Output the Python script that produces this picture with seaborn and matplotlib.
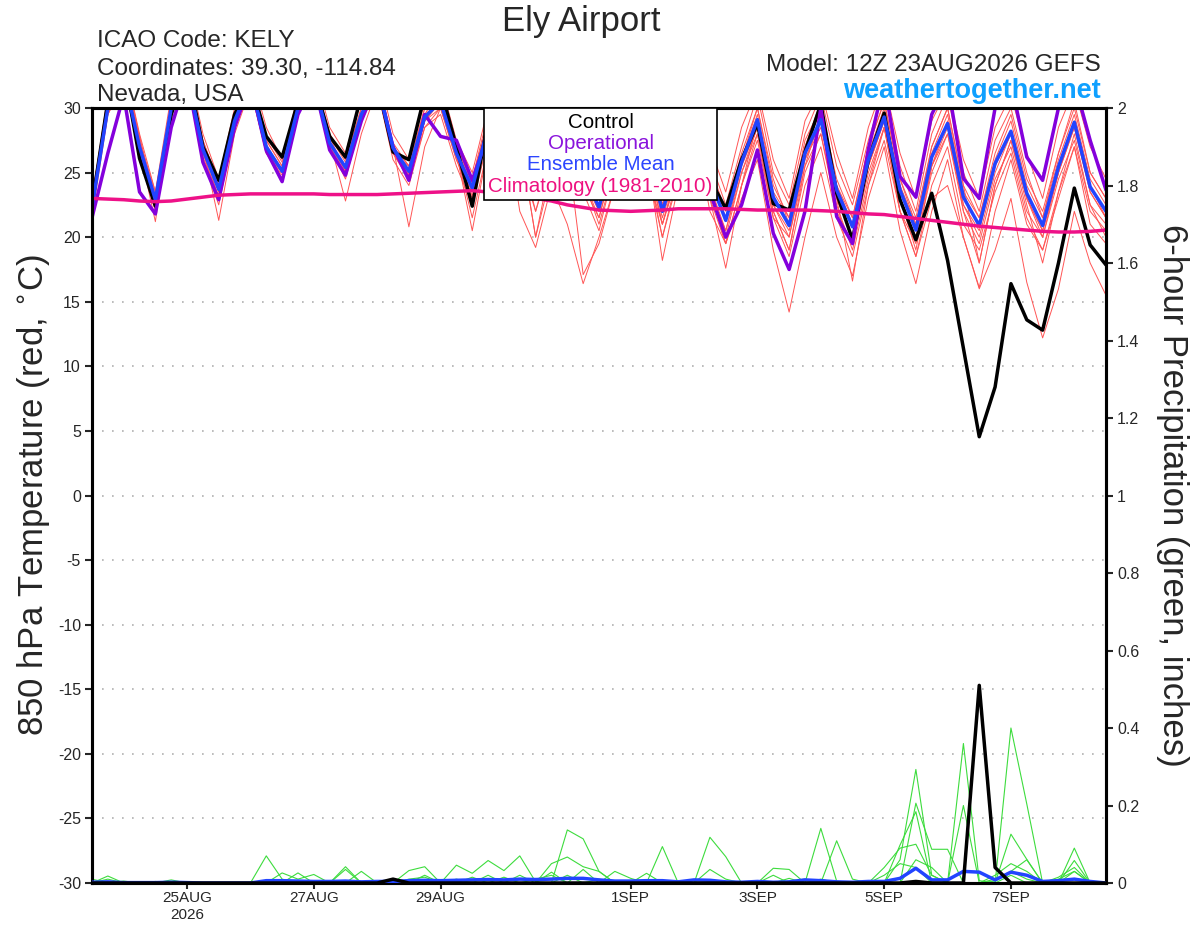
import numpy as np
import pandas as pd
import matplotlib
matplotlib.use("Agg")
import matplotlib.pyplot as plt
from matplotlib.lines import Line2D
from matplotlib.ticker import FuncFormatter
import seaborn as sns

# 6-hourly steps, 12Z 23AUG2026 -> 12Z 8SEP2026
times = pd.date_range("2026-08-23 12:00", periods=65, freq="6h")

# 850 hPa temperature (C)
control_t = [22.5, 30.5, 33, 26.1, 22.4, 29.5, 33, 27.0, 24.4, 29.5, 32, 27.8, 26.2,
             30.5, 32, 27.8, 26.2, 31, 32, 26.6, 26.0, 31, 31.5, 27.0, 22.4, 29,
             32, 27.5, 24.0, 28.5, 31, 26, 23.5, 27.5, 31, 27.5, 23.3, 26.5, 29.5,
             24.5, 22.2, 26.0, 28.8, 22.6, 22.1, 26.6, 30.3, 23.4, 19.8, 26.0, 29.6, 22.9,
             19.8, 23.4, 18.2, 11.4, 4.55, 8.4, 16.4, 13.6, 12.8, 18.0, 23.8, 19.4, 17.85]
oper_t = [21.5, 26.5, 31, 23.5, 21.8, 28.5, 32.5, 25.8, 22.9, 28.5, 32, 26.7, 24.3,
          29.5, 32, 26.75, 24.8, 29, 32, 27.0, 24.4, 29.5, 27.8, 27.5, 24.4, 28,
          31, 27, 24, 28, 31, 26, 23.5, 27, 30.5, 27, 23.5, 25.5, 28,
          23.5, 20.0, 22.5, 26.75, 20.3, 17.5, 22.0, 30.0, 21.6, 19.5, 26.8, 32, 24.7,
          23.1, 29.5, 32, 24.55, 23.0, 30.0, 32, 26.2, 24.4, 30.0, 32, 27.5, 23.65]
mean_t = [22.3, 30.0, 32.5, 27.0, 22.9, 30.0, 32.5, 26.8, 23.7, 29.0, 32.0, 27.0, 25.1,
          30.0, 32.0, 27.3, 25.4, 29.5, 32.0, 26.9, 25.1, 29.3, 30.5, 26.5, 23.8, 28.5,
          31.5, 27.0, 24.0, 28.0, 30.5, 25.0, 22.3, 27.0, 30.5, 27.0, 22.0, 26.0, 29.0,
          24.5, 21.3, 25.8, 29.1, 23.1, 20.9, 26.5, 29.1, 23.65, 20.8, 26.0, 29.3, 23.65,
          20.55, 26.2, 28.8, 23.1, 20.9, 25.7, 28.2, 23.4, 20.9, 25.45, 28.9, 23.9, 22.0]
clim_t = [23.0, 22.95, 22.9, 22.8, 22.75, 22.8, 22.95, 23.1, 23.25, 23.3, 23.35, 23.35, 23.35,
          23.35, 23.35, 23.3, 23.3, 23.3, 23.3, 23.35, 23.4, 23.45, 23.5, 23.55, 23.6, 23.5,
          23.4, 23.2, 23.0, 22.8, 22.5, 22.3, 22.1, 22.05, 22.0, 22.05, 22.1, 22.2, 22.2,
          22.2, 22.2, 22.15, 22.1, 22.1, 22.1, 22.1, 22.05, 22.0, 21.9, 21.8, 21.75, 21.6,
          21.45, 21.3, 21.15, 21.0, 20.85, 20.75, 20.65, 20.55, 20.45, 20.4, 20.4, 20.45, 20.55]

# ensemble members, one day (12Z 18Z 00Z 06Z) per group of four
member_t = [
    [22.8, 30.5, 33, 27.5, 23.2, 30.5, 33, 27.2, 24.0, 29.5, 32.5, 27.5, 25.5, 30.5, 32.5, 27.8,
     25.8, 30, 32.5, 27.3, 25.5, 30, 31, 27, 24.2, 29, 32, 27.5, 24.5, 28.5, 31, 26,
     23, 28, 31, 27.5, 22.5, 27, 30, 25.5, 22, 26.5, 30, 24, 21.5, 27.5, 30, 24.5,
     21.5, 27, 30.5, 24.5, 21.5, 27, 30, 24, 21.5, 26.5, 29.5, 24.5, 22, 26.5, 30, 25, 23],
    [22.0, 29.5, 32, 26.5, 22.0, 29, 32, 26.0, 22.5, 28.5, 31.5, 26.5, 24.5, 29.5, 31.5, 27,
     24.5, 29, 31.5, 26, 24, 28.5, 29.5, 25.5, 22.5, 27.5, 30.5, 26, 22, 26.5, 29, 23.5,
     20.5, 25.5, 29, 25.5, 20, 24.5, 27.5, 23, 19.5, 24, 27.5, 21.5, 18.5, 24, 27, 21.5,
     18.5, 24, 27.5, 22, 18.5, 24, 27, 21, 19, 23.5, 26.5, 21.5, 19, 23.5, 27, 22, 20.5],
    [22.6, 31, 33.5, 28, 23.5, 31, 33.5, 28, 24.5, 30, 33, 28.5, 26, 31, 33, 28.5,
     26.5, 31, 33, 28, 26, 30.5, 32, 27.5, 25, 30, 33, 28.5, 25.5, 30, 32, 27,
     24, 29, 32.5, 29, 24, 28.5, 31.5, 27, 23.5, 28.5, 31.5, 26, 23, 29, 31.5, 26.5,
     23, 28.5, 32, 26.5, 23, 29, 31.5, 26, 23, 28.5, 31, 26.5, 23, 28.5, 31.5, 27, 24.5],
    [21.8, 30, 32.5, 26.8, 21.2, 29.5, 32.5, 26.5, 23, 29, 32, 26.8, 25, 30, 32, 27,
     25, 29.5, 32, 26.5, 24.5, 29, 30, 26, 23.5, 28, 30, 22, 19.2, 24, 21, 16.4,
     20, 24, 28, 25, 21, 25, 28, 23.5, 19.5, 24, 28, 22, 19, 25, 28, 22.5,
     19, 24.5, 28.5, 22, 18.5, 23, 24, 20, 16, 19, 23, 16.5, 12.2, 16, 22, 18, 15.5],
    [22.4, 30, 32.5, 27.2, 22.8, 30, 32.5, 26.8, 23.5, 28.5, 32, 27.2, 25, 30, 32, 27.5,
     25.2, 29.5, 32, 26.8, 24.8, 29, 30.5, 26.5, 21.5, 27, 31, 27.5, 20, 26, 30.5, 24,
     21.5, 26, 30, 26, 21, 25, 28.5, 22, 19.5, 23, 26, 19, 14.2, 20, 25, 20,
     17, 23, 27, 20.5, 16.4, 22, 26, 20, 16.1, 22, 26, 21, 19, 23, 27, 21, 19.5],
    [23, 30.5, 33, 27.8, 22.5, 30, 32, 27, 21.3, 28, 31.5, 27, 24.5, 30, 32, 27.5,
     22.8, 28, 31.5, 27, 20.8, 27, 30, 26.5, 20.5, 27, 31, 26, 23.5, 27.5, 30, 24.5,
     22, 26.5, 30, 26.5, 18.2, 24, 28.5, 23, 17.6, 24, 29, 22, 19, 25.5, 29.5, 23,
     16.6, 24, 28.5, 23, 19, 25.5, 29, 22, 18, 24, 27.5, 22.5, 18, 23.5, 28, 22.5, 21],
    [22.2, 30, 33, 27, 23, 30.5, 33, 27.5, 24, 29.5, 32, 27.5, 25.5, 30.5, 32.5, 28,
     26, 30, 32, 27, 25.5, 30, 31, 27, 24.5, 29, 32, 27.5, 20, 25, 27, 17.1,
     19.5, 24, 29, 26, 22.5, 26.5, 29, 25, 21.5, 26, 30, 24.5, 21, 27, 30.5, 24,
     21.5, 27, 30.5, 24.5, 21, 27, 30, 24, 18, 24, 27.5, 23, 20, 25, 29, 24, 21.5],
    [22.5, 29.5, 32, 26.5, 23, 29.5, 32.5, 26.5, 23.8, 29, 31.5, 26.5, 24.8, 29.5, 31.5, 27,
     25.2, 29, 31.5, 26.5, 25.5, 29.5, 31.5, 26.8, 24, 28.5, 31.5, 26.5, 23, 27, 30, 25.5,
     22, 26.5, 30, 26.5, 21, 25.5, 28.5, 24, 20.5, 25.5, 28.5, 22.5, 20, 26, 28.5, 23,
     20, 25.5, 29, 23, 20, 25.5, 28, 22.5, 20.5, 25.5, 28, 23, 20.5, 25, 28.5, 23.5, 21.5],
    [22.9, 31, 33.5, 27.8, 22.5, 30, 32.5, 27, 23, 29.5, 32, 27, 25.3, 30, 32, 27.3,
     25.5, 30, 32, 27, 25, 29.5, 30.5, 26.8, 24, 29, 32, 27.5, 24.5, 28.5, 31.5, 26,
     23, 28, 31.5, 28, 23, 27.5, 30.5, 26, 22.5, 27, 31, 25, 22.5, 28, 31, 25.5,
     22.5, 27.5, 31.5, 25.5, 22, 28, 31, 25, 22, 27.5, 30, 25, 21.5, 26.5, 30.5, 25, 23],
    [21.5, 29.5, 32.5, 26.5, 22.5, 29.5, 32, 26.2, 23.2, 28.5, 31.5, 26.5, 25, 30, 32, 27,
     24.8, 29, 31.5, 26.5, 24.5, 28.5, 30, 26, 23, 28, 31, 26.5, 23.5, 27.5, 29, 24.5,
     21, 25.5, 29.5, 26, 20, 25, 28, 23.5, 20.5, 25, 28, 21.5, 20, 25.5, 28, 22,
     19.5, 25, 28.5, 22, 19.5, 25, 28, 22, 19.5, 24.5, 27, 22, 20, 24.5, 27.5, 22.5, 20],
    [23.2, 30.5, 33, 27.5, 23.5, 30, 32.5, 27.5, 24.2, 29.5, 32.5, 27.8, 25.8, 30.5, 32.5, 27.8,
     25, 29.5, 32, 27.2, 24.5, 29, 31, 27, 24.5, 29.5, 32, 27, 22, 26, 30, 25,
     23, 27.5, 31, 27.5, 22.5, 26.5, 30, 24.5, 21.5, 26, 29.5, 23.5, 21.5, 27, 30, 24,
     21, 26.5, 30, 24, 21, 26.5, 29.5, 23.5, 21.5, 26, 29, 24, 21.5, 26, 29.5, 24.5, 22.5],
    [22.1, 30, 32.5, 27.2, 22.6, 29.5, 32.5, 26.8, 23.5, 29, 32, 26.8, 25.2, 30, 32, 27.2,
     25.4, 29.5, 32, 27, 24.8, 29, 30.5, 26.2, 23.2, 28.5, 31, 26.5, 23, 27.5, 30, 24.5,
     21.5, 26.5, 30, 26.5, 21.5, 25.5, 28.5, 24, 20, 25, 28.5, 22.5, 20.5, 26, 29, 23,
     20, 25.5, 29, 23, 20, 25.5, 28.5, 22.5, 20, 25, 28, 23, 20.5, 25, 28.5, 23.5, 21.5],
]

# 6-hour precipitation (inches)
control_p = [0, 0, 0, 0, 0, 0, 0, 0, 0, 0, 0, 0, 0,
             0, 0, 0, 0, 0, 0, .01, 0, 0, 0, 0, 0, 0,
             0, 0, 0, 0, 0, 0, 0, 0, 0, 0, 0, 0, 0,
             0, 0, 0, 0, 0, 0, 0, 0, 0, 0, 0, 0, 0,
             .004, 0, 0, 0, .51, .04, 0, 0, 0, 0, 0, 0, 0]
mean_p = [.002, .003, .001, .001, .001, .002, .001, 0, 0, 0, 0, .006, .006,
          .005, .004, .004, .005, .003, .004, .004, .006, .007, .006, .007, .008, .009,
          .008, .01, .009, .01, .012, .012, .008, .005, .005, .006, .006, .003, .008,
          .007, .003, .002, .004, .002, .003, .008, .006, .003, .002, .004, .004, .012,
          .038, .008, .008, .03, .028, .008, .028, .02, .004, .006, .01, .004, 0]
member_p = [
    [0, .018, 0, 0, 0, 0, 0, 0, 0, 0, 0, .07, .01,
     0, 0, 0, 0, 0, 0, 0, 0, 0, 0, .046, .025, .058,
     .032, .07, .003, 0, .137, .114, .03, 0, 0, 0, .094, 0, 0,
     0, 0, 0, 0, 0, 0, 0, .141, .005, 0, 0, 0, .06,
     .293, .02, 0, 0, 0, 0, .40, .204, 0, 0, .09, 0, 0],
    [.01, 0, 0, 0, 0, 0, 0, 0, 0, 0, 0, 0, .026,
     .01, .022, 0, .042, 0, 0, 0, .032, .042, 0, 0, 0, 0,
     0, 0, 0, .05, .067, .042, .03, 0, 0, 0, 0, 0, 0,
     .118, .068, 0, 0, 0, 0, 0, 0, 0, 0, 0, 0, 0,
     .206, .087, .087, 0, 0, 0, .126, .061, 0, 0, .058, 0, 0],
    [0, .01, 0, 0, 0, .008, 0, 0, 0, 0, 0, 0, 0,
     .026, 0, 0, .035, 0, 0, 0, 0, .02, 0, 0, 0, 0,
     0, 0, 0, .028, 0, .035, 0, 0, 0, .025, 0, 0, 0,
     0, 0, 0, 0, .038, .035, 0, 0, .109, .01, 0, 0, .098,
     .184, 0, 0, .36, .006, 0, .02, 0, 0, 0, .03, 0, 0],
    [0, 0, .005, 0, 0, 0, 0, 0, 0, 0, 0, 0, 0,
     0, 0, 0, 0, 0, .004, 0, 0, 0, 0, 0, .015, 0,
     0, .02, 0, 0, .02, 0, 0, .03, .012, 0, 0, 0, 0,
     .035, .01, 0, 0, .02, 0, 0, 0, 0, 0, 0, .02, .05,
     .04, 0, 0, .2, 0, .02, .05, .03, 0, .01, .03, 0, 0],
    [0, 0, 0, 0, 0, 0, 0, 0, 0, 0, 0, 0, 0,
     0, 0, 0, 0, .03, 0, 0, 0, 0, 0, 0, 0, .02,
     0, 0, 0, 0, 0, 0, .01, 0, 0, 0, 0, 0, 0,
     0, 0, 0, 0, 0, .012, 0, .01, 0, 0, 0, .04, .09,
     .1, .02, 0, 0, 0, .01, .03, .06, 0, .015, .04, 0, 0],
    [0, 0, 0, 0, .004, 0, .002, 0, 0, 0, 0, 0, 0,
     0, 0, 0, 0, 0, 0, 0, .01, .015, 0, .01, 0, 0,
     .015, 0, .01, .02, 0, 0, 0, 0, 0, 0, 0, .006, 0,
     0, 0, 0, 0, 0, .005, .01, 0, 0, 0, 0, 0, 0,
     .06, .04, 0, 0, 0, .005, .03, .01, 0, 0, 0, 0, 0],
]

tick_days = ["2026-08-25", "2026-08-27", "2026-08-29", "2026-09-01",
             "2026-09-03", "2026-09-05", "2026-09-07"]
tick_labels = ["25AUG\n2026", "27AUG", "29AUG", "1SEP", "3SEP", "5SEP", "7SEP"]

legend_labels = ["Control", "Operational", "Ensemble Mean", "Climatology (1981-2010)"]
legend_colors = ["black", "#8a14dc", "#2b45ff", "#ee1180"]

RED = "#ff5555"
GREEN = "#3ddc3d"
PURPLE = "#8400dc"
BLUE = "#2244ff"
MAGENTA = "#ee1188"


def long_frame(series, name):
    return pd.DataFrame({
        "time": np.tile(times, len(series)),
        name: np.concatenate([np.asarray(s, dtype=float) for s in series]),
        "member": np.repeat(np.arange(len(series)), len(times)),
    })


sns.set_style("ticks")
plt.rcParams["font.family"] = ["Liberation Sans", "DejaVu Sans"]
plt.rcParams["axes.unicode_minus"] = False

fig = plt.figure(figsize=(12, 9.27), dpi=100)
ax = fig.add_axes([92 / 1200, 1 - 883 / 927, 1014 / 1200, 775 / 927])
ax2 = ax.twinx()

# temperature
sns.lineplot(data=long_frame(member_t, "temp"), x="time", y="temp", units="member",
             estimator=None, color=RED, lw=0.7, legend=False, ax=ax)
sns.lineplot(x=times, y=control_t, color="black", lw=2.5, estimator=None, ax=ax, zorder=3)
sns.lineplot(x=times, y=oper_t, color=PURPLE, lw=2.5, estimator=None, ax=ax, zorder=4)
sns.lineplot(x=times, y=mean_t, color=BLUE, lw=2.5, estimator=None, ax=ax, zorder=5)
sns.lineplot(x=times, y=clim_t, color=MAGENTA, lw=2.5, estimator=None, ax=ax, zorder=6)

# precipitation
sns.lineplot(data=long_frame(member_p, "precip"), x="time", y="precip", units="member",
             estimator=None, color=GREEN, lw=0.8, legend=False, ax=ax2)
sns.lineplot(x=times, y=mean_p, color=BLUE, lw=2.5, estimator=None, ax=ax2, zorder=4)
sns.lineplot(x=times, y=control_p, color="black", lw=2.5, estimator=None, ax=ax2, zorder=5)

ax.set_xlim(times[0], times[-1])
ax.set_ylim(-30, 30)
ax2.set_ylim(0, 2)
ax.set_yticks(np.arange(-30, 31, 5))
ax2.set_yticks(np.arange(0, 2.01, 0.2))
ax2.yaxis.set_major_formatter(FuncFormatter(lambda v, _: f"{v:g}"))
ax.set_xticks(pd.to_datetime(tick_days))
ax.set_xticklabels(tick_labels)

ax.yaxis.grid(True, color="#b0b0b0", linestyle=(0, (1, 5)), lw=1.2)
ax.xaxis.grid(False)
ax.set_axisbelow(True)

for a in (ax, ax2):
    for sp in a.spines.values():
        sp.set_visible(True)
        sp.set_linewidth(2.2)
        sp.set_color("black")
ax.tick_params(axis="y", direction="out", length=5, width=1.5, labelsize=11.5, pad=3)
ax2.tick_params(axis="y", direction="out", length=5, width=1.5, labelsize=11.5, pad=3)
ax.tick_params(axis="x", direction="out", length=4, width=1.5, labelsize=11, pad=2)

ax.set_xlabel("")
ax.set_ylabel(r"850 hPa Temperature (red, $^{\circ}$C)", fontsize=25, labelpad=4)
ax2.set_ylabel("6-hour Precipitation (green, inches)", fontsize=25, rotation=270,
               va="bottom", labelpad=12)

handles = [Line2D([], [], lw=0, color=c) for c in legend_colors]
leg = ax2.legend(handles, legend_labels, loc="upper center", bbox_to_anchor=(0.5015, 1.0),
                 borderaxespad=0, handlelength=0, handletextpad=0, labelcolor=legend_colors,
                 frameon=True, fancybox=False, framealpha=1, edgecolor="black",
                 fontsize=14.8, borderpad=0.22, labelspacing=0.12)
leg.get_frame().set_linewidth(1.2)
# centre every row inside the box
for col in leg._legend_handle_box.get_children():
    col.align = "center"

fig.text(581 / 1200, 1 - 21 / 927, "Ely Airport", ha="center", va="center", fontsize=25)
fig.text(97 / 1200, 1 - 41 / 927, "ICAO Code: KELY", ha="left", va="center", fontsize=17.5)
fig.text(97 / 1200, 1 - 68.5 / 927, "Coordinates: 39.30, -114.84", ha="left", va="center", fontsize=17.5)
fig.text(97 / 1200, 1 - 95.5 / 927, "Nevada, USA", ha="left", va="center", fontsize=17.5)
fig.text(1101 / 1200, 1 - 65 / 927, "Model: 12Z 23AUG2026 GEFS", ha="right", va="center", fontsize=17.5)
fig.text(1101 / 1200, 1 - 91 / 927, "weathertogether.net", ha="right", va="center",
         fontsize=19.5, fontweight="bold", color="#0fa0ff")

fig.savefig("out.png", dpi=100)
